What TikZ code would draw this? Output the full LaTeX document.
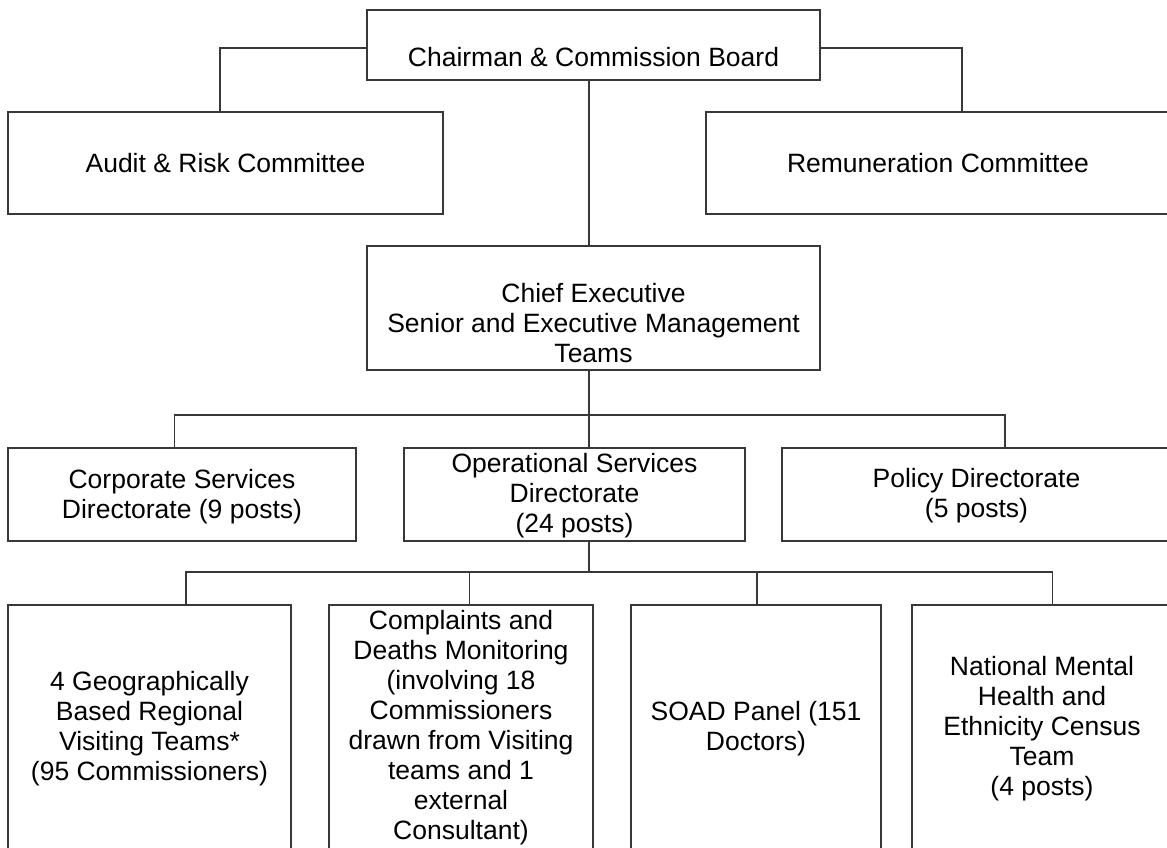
\documentclass[tikz,border=0pt]{standalone}
\usepackage{fontspec}
\setmainfont{Liberation Sans}
\begin{document}
\begin{tikzpicture}[x=1pt,y=-1pt,
  box/.style={draw=black!78,line width=1.3pt,rectangle,inner sep=0pt,outer sep=0pt},
  txt/.style={anchor=north,inner sep=0pt,align=center,font=\fontsize{26.5}{30}\selectfont},
  conn/.style={draw=black!78,line width=1.3pt}]
\useasboundingbox (0,0) rectangle (1167,847);
% boxes
\node[box,minimum width=453pt,minimum height=70pt]  (chair)  at (593.5,45) {};
\node[box,minimum width=435pt,minimum height=102pt] (audit)  at (225.5,163) {};
\node[box,minimum width=464pt,minimum height=102pt] (remun)  at (938,163) {};
\node[box,minimum width=453pt,minimum height=124pt] (chief)  at (593.5,308) {};
\node[box,minimum width=348pt,minimum height=93pt]  (corp)   at (182,494.5) {};
\node[box,minimum width=341pt,minimum height=93pt]  (oper)   at (574.5,494.5) {};
\node[box,minimum width=389pt,minimum height=93pt]  (policy) at (976.5,494.5) {};
\node[box,minimum width=283pt,minimum height=245pt] (geo)    at (149.5,727.5) {};
\node[box,minimum width=264pt,minimum height=245pt] (compl)  at (461,727.5) {};
\node[box,minimum width=250pt,minimum height=245pt] (soad)   at (756,727.5) {};
\node[box,minimum width=260pt,minimum height=245pt] (census) at (1042,727.5) {};
% texts
\node[txt] (tchair)  at (593.5,45) {\strut Chairman \& Commission Board};
\node[txt] (taudit)  at (225.5,151) {\strut Audit \& Risk Committee};
\node[txt] (tremun)  at (938,151) {\strut Remuneration Committee};
\node[txt] (tchief)  at (593.5,281) {\strut Chief Executive\\Senior and Executive Management\\Teams};
\node[txt] (tcorp)   at (182,467) {\strut Corporate Services\\Directorate (9 posts)};
\node[txt] (toper)   at (574.5,451) {\strut Operational Services\\Directorate\\(24 posts)};
\node[txt] (tpolicy) at (976.5,466) {\strut Policy Directorate\\(5 posts)};
\node[txt] (tgeo)    at (149.5,669) {\strut 4 Geographically\\Based Regional\\Visiting Teams*\\(95 Commissioners)};
\node[txt] (tcompl)  at (461,608) {\strut Complaints and\\Deaths Monitoring\\(involving 18\\Commissioners\\drawn from Visiting\\teams and 1\\external\\Consultant)};
\node[txt] (tsoad)   at (756,699) {\strut SOAD Panel (151\\Doctors)};
\node[txt] (tcensus) at (1042,654) {\strut National Mental\\Health and\\Ethnicity Census\\Team\\(4 posts)};
% bus coordinates
\coordinate (busA) at (589,415);
\coordinate (busB) at (589,572);
% connectors
\draw[conn] ([yshift=-3pt]chair.west) -| ([xshift=-5.5pt]audit.north);
\draw[conn] ([yshift=-3pt]chair.east) -| ([xshift=24pt]remun.north);
\draw[conn] ([xshift=-4.5pt]chair.south) -- ([xshift=-4.5pt]chief.north);
\draw[conn] ([xshift=-4.5pt]chief.south) -- ([xshift=14.5pt]oper.north);
\draw[conn] ([xshift=-7.5pt]corp.north) |- (busA) -| ([xshift=28.5pt]policy.north);
\draw[conn] ([xshift=14.5pt]oper.south) -- (busB);
\draw[conn] ([xshift=36.5pt]geo.north) |- (busB) -| ([xshift=10.5pt]census.north);
\draw[conn] ([xshift=8.6pt]compl.north) -- ([xshift=8.6pt]compl.north |- busB);
\draw[conn] ([xshift=1pt]soad.north) -- ([xshift=1pt]soad.north |- busB);
\end{tikzpicture}
\end{document}
